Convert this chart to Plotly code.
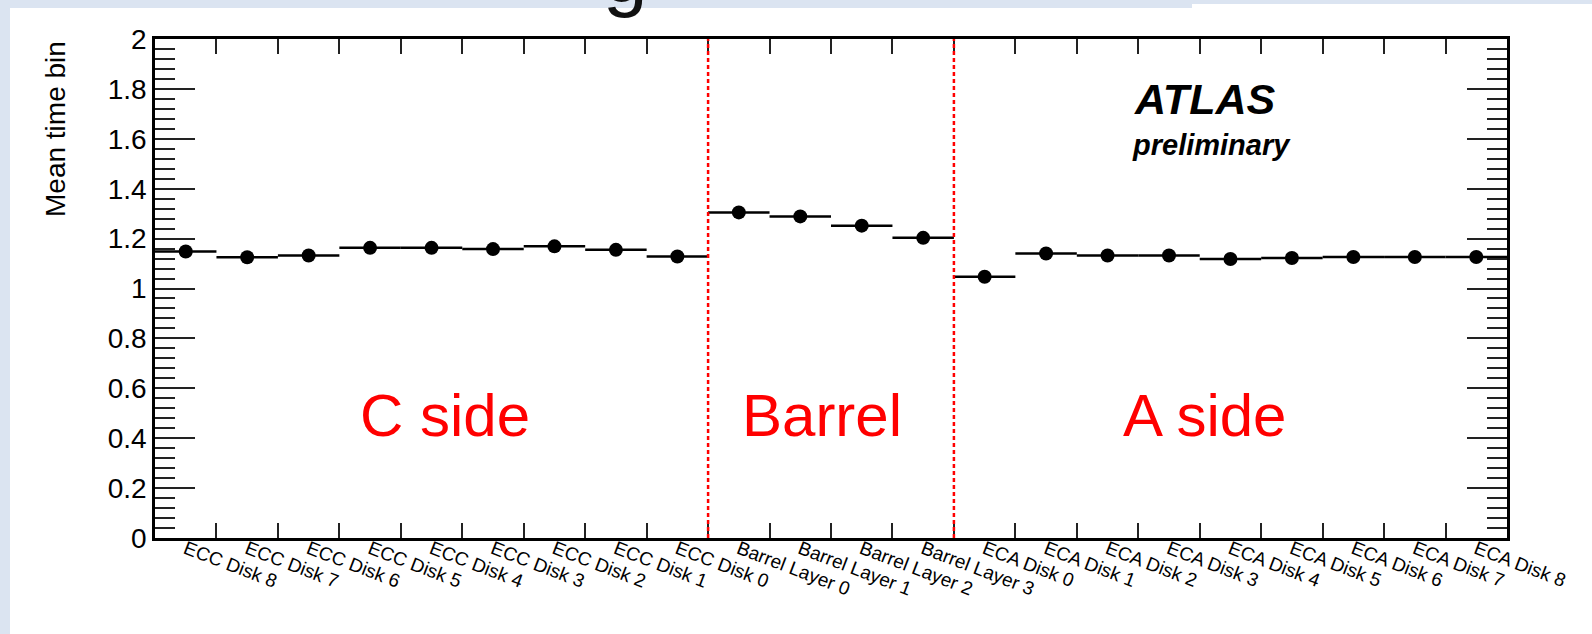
import plotly.graph_objects as go

# Detector regions and their bin labels
ecc_labels = [f"ECC Disk {i}" for i in range(8, -1, -1)]
barrel_labels = [f"Barrel Layer {i}" for i in range(4)]
eca_labels = [f"ECA Disk {i}" for i in range(9)]
bin_labels = ecc_labels + barrel_labels + eca_labels

# Mean time bin per detector element
ecc_values = [1.148, 1.125, 1.132, 1.163, 1.163, 1.158, 1.169, 1.155, 1.128]
barrel_values = [1.305, 1.289, 1.252, 1.203]
eca_values = [1.047, 1.140, 1.132, 1.132, 1.118, 1.122, 1.126, 1.126, 1.126]
mean_time_bin = ecc_values + barrel_values + eca_values

region_names = ["C side", "Barrel", "A side"]

n_bins = len(bin_labels)
centers = [i + 0.5 for i in range(n_bins)]
edges = list(range(1, n_bins))
region_bounds = [len(ecc_values), len(ecc_values) + len(barrel_values)]

fig = go.Figure()

# Histogram points with bin-width horizontal bars
fig.add_trace(go.Scatter(
    x=centers, y=mean_time_bin, mode="markers",
    marker=dict(symbol="circle", size=14, color="black"),
    error_x=dict(type="constant", value=0.5, thickness=2.5, width=0, color="black"),
    showlegend=False, hoverinfo="skip",
))
# Invisible trace that carries the tick axis at the bin edges
fig.add_trace(go.Scatter(
    x=[0, n_bins], y=[0, 0], xaxis="x2", mode="markers",
    marker=dict(opacity=0), showlegend=False, hoverinfo="skip",
))

axis_font = dict(family="Liberation Sans, Arial, sans-serif", color="black")

fig.update_layout(
    width=1592, height=634,
    margin=dict(l=155, r=85, t=39, b=96),
    paper_bgcolor="white", plot_bgcolor="white",
    xaxis=dict(
        range=[0, n_bins], tickmode="array", tickvals=centers, ticktext=bin_labels,
        tickangle=21, ticks="", showgrid=False, zeroline=False, ticklabelstandoff=-10,
        showline=True, linecolor="black", linewidth=2.5, mirror=True,
        tickfont=dict(size=19, **axis_font),
    ),
    xaxis2=dict(
        range=[0, n_bins], overlaying="x", side="bottom", anchor="y",
        tickmode="array", tickvals=edges, ticks="inside", ticklen=15, tickwidth=1.5,
        tickcolor="#222", mirror="ticks", showticklabels=False, showgrid=False,
        zeroline=False, showline=False,
    ),
    yaxis=dict(
        range=[0, 2], dtick=0.2, tick0=0, ticks="inside", ticklen=40, tickwidth=1.5,
        tickcolor="#222", mirror="ticks", showgrid=False, zeroline=False,
        showline=True, linecolor="black", linewidth=2.5,
        minor=dict(dtick=0.04, ticks="inside", ticklen=20, tickwidth=1.5, tickcolor="#222"),
        tickfont=dict(size=28, **axis_font),
    ),
)

# Boundaries between detector regions
for b in region_bounds:
    fig.add_shape(type="line", xref="x", yref="y", x0=b, x1=b, y0=0, y1=2,
                  line=dict(color="red", width=2.5, dash="4px,3px"))

# Region names
for name, xpos in zip(region_names, [4.72, 10.85, 17.07]):
    fig.add_annotation(x=xpos, y=0.49, xref="x", yref="y", text=name, showarrow=False,
                       font=dict(size=60, color="red", family="Liberation Sans, Arial, sans-serif"),
                       xanchor="center", yanchor="middle")

# ATLAS label
fig.add_annotation(x=15.9, y=1.76, xref="x", yref="y", text="<b><i>ATLAS</i></b>",
                   showarrow=False, xanchor="left", yanchor="middle",
                   font=dict(size=43, color="black", family="Liberation Sans, Arial, sans-serif"))
fig.add_annotation(x=15.87, y=1.575, xref="x", yref="y", text="<b><i>preliminary</i></b>",
                   showarrow=False, xanchor="left", yanchor="middle",
                   font=dict(size=29, color="black", family="Liberation Sans, Arial, sans-serif"))

# Y axis title
fig.add_annotation(x=(55 - 155) / 1352, y=1, xref="paper", yref="paper", text="Mean time bin",
                   textangle=-90, showarrow=False, xanchor="center", yanchor="top",
                   font=dict(size=28, **axis_font))

# Slide frame around the figure
frame = "#dbe4f1"
fig.add_shape(type="rect", xref="paper", yref="paper", layer="below",
              x0=-155 / 1352, x1=(1592 - 155) / 1352, y0=1 + 31 / 499, y1=1 + 39 / 499,
              fillcolor=frame, line_width=0)
fig.add_shape(type="rect", xref="paper", yref="paper", layer="below",
              x0=(1192 - 155) / 1352, x1=(1592 - 155) / 1352, y0=1 + 31 / 499, y1=1 + 35 / 499,
              fillcolor="white", line_width=0)
fig.add_shape(type="rect", xref="paper", yref="paper", layer="below",
              x0=-155 / 1352, x1=-145 / 1352, y0=-96 / 499, y1=1 + 39 / 499,
              fillcolor=frame, line_width=0)

# Tail of the slide title glyph above the frame
fig.add_annotation(x=(625 - 155) / 1352, y=1 + (39 - 20) / 499, xref="paper", yref="paper",
                   text="g", showarrow=False, xanchor="center", yanchor="bottom",
                   font=dict(size=80, color="#111111", family="Liberation Sans, Arial, sans-serif"))

fig.write_html("out.html")
